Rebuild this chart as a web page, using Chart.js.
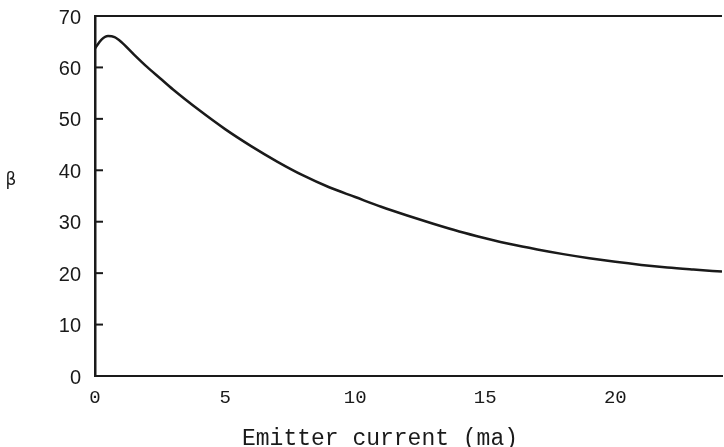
<!DOCTYPE html>
<html><head><meta charset="utf-8">
<script src="https://cdn.jsdelivr.net/npm/chart.js@4"></script>
<style>html,body{margin:0;padding:0;background:#fff}#wrap{width:724px;height:447px;position:relative}</style>
</head><body><div id="wrap"><canvas id="c" width="724" height="447"></canvas></div>
<script>
const emitterCurrent = [0,0.25,0.5,0.75,1,1.5,2,2.5,3,4,5,6,7,8,9,10,11,12,13,14,15,16,17,18,19,20,21,22,23,24.1];
const beta = [63.7,65.4,66.1,65.9,65.0,62.5,60.1,57.9,55.7,51.7,48.0,44.7,41.7,39.0,36.7,34.8,32.9,31.2,29.6,28.1,26.8,25.6,24.6,23.7,22.9,22.2,21.6,21.1,20.7,20.3];
const xTickValues = [0,5,10,15,20];
const yTickValues = [0,10,20,30,40,50,60,70];
const xTitle = 'Emitter current (ma)';
const yTitle = 'β';

const ink = '#1a1a1a';
const framePlugin = {
  id: 'frame',
  afterDraw(chart) {
    const {ctx, chartArea, scales} = chart;
    ctx.save();
    ctx.strokeStyle = ink;
    ctx.lineWidth = 2;
    ctx.beginPath();
    ctx.moveTo(chartArea.left, chartArea.top);
    ctx.lineTo(chartArea.right, chartArea.top);
    ctx.stroke();
    yTickValues.forEach(v => {
      if (v === 0 || v === 70) return;
      const y = scales.y.getPixelForValue(v);
      ctx.beginPath();
      ctx.moveTo(chartArea.left, y);
      ctx.lineTo(chartArea.left + 8, y);
      ctx.stroke();
    });
    ctx.fillStyle = ink;
    ctx.textAlign = 'center';
    ctx.textBaseline = 'middle';
    ctx.font = '17px "DejaVu Sans"';
    ctx.fillText(yTitle, 11, scales.y.getPixelForValue(38));
    ctx.font = '23px "Liberation Mono"';
    ctx.textBaseline = 'alphabetic';
    ctx.fillText(xTitle, 380, 445);
    ctx.restore();
  }
};

new Chart(document.getElementById('c'), {
  type: 'line',
  data: {
    datasets: [{
      data: emitterCurrent.map((x, i) => ({x, y: beta[i]})),
      borderColor: ink,
      borderWidth: 2.5,
      pointRadius: 0,
      cubicInterpolationMode: 'monotone',
      fill: false
    }]
  },
  options: {
    responsive: false,
    animation: false,
    devicePixelRatio: 1,
    layout: {padding: {top: 16, right: 2, left: 0, bottom: 0}},
    plugins: {legend: {display: false}, tooltip: {enabled: false}},
    scales: {
      x: {
        type: 'linear',
        min: 0, max: 24.1,
        afterBuildTicks: s => { s.ticks = xTickValues.map(v => ({value: v})); },
        afterFit: s => { s.height = 71; s.paddingLeft = 0; s.paddingRight = 0; },
        grid: {display: false, drawTicks: false},
        border: {display: true, color: ink, width: 2},
        ticks: {font: {family: '"Liberation Mono"', size: 19}, color: ink, padding: 11, maxRotation: 0},
        title: {display: false}
      },
      y: {
        min: 0, max: 70,
        afterBuildTicks: s => { s.ticks = yTickValues.map(v => ({value: v})); },
        afterFit: s => { s.width = 95; s.paddingTop = 0; s.paddingBottom = 0; },
        grid: {display: false, drawTicks: false},
        border: {display: true, color: ink, width: 2.5},
        ticks: {font: {family: '"Liberation Sans"', size: 20}, color: ink, padding: 14, labelOffset: 2}
      }
    }
  },
  plugins: [framePlugin]
});
</script>
</body></html>
